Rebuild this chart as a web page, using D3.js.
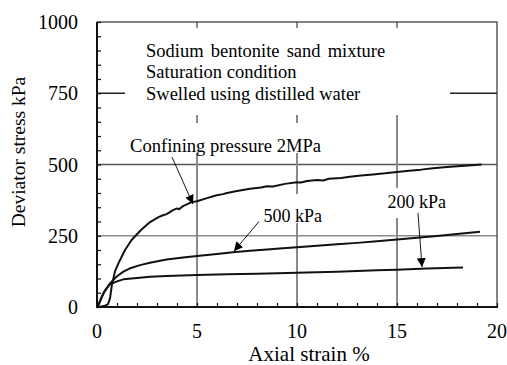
<!DOCTYPE html>
<html><head><meta charset="utf-8">
<script src="https://cdn.jsdelivr.net/npm/d3@7"></script>
</head><body style="margin:0"><svg id="c" width="507" height="365" style="display:block;background:#fff"></svg>
<script>
const xTicks = [0, 5, 10, 15, 20];
const yTicks = [0, 250, 500, 750, 1000];
const xTitle = "Axial strain %";
const yTitle = "Deviator stress kPa";
const boxLines = ["Sodium bentonite sand mixture", "Saturation condition", "Swelled using distilled water"];
const seriesNames = ["Confining pressure 2MPa", "500 kPa", "200 kPa"];
const s2MPa = [[0,0],[0.2,2],[0.4,4],[0.55,10],[0.65,30],[0.75,80],[0.9,125],[1.07,153],[1.4,200],[1.73,235],[2.2,270],[2.65,298],[3.1,316],[3.3,322],[3.48,326],[3.8,340],[4.0,346],[4.1,343],[4.3,354],[4.73,368],[5.0,371],[5.5,382],[5.98,392],[6.3,396],[6.5,400],[7,407],[7.65,415],[8.2,419],[8.5,424],[8.8,423],[9.4,432],[9.98,438],[10.2,437],[10.5,442],[11,446],[11.3,444],[11.6,450],[12.2,453],[12.65,457],[13.2,461],[13.8,465],[14.4,469],[15,474],[15.6,478],[16.2,482],[16.8,487],[17.65,492],[18.4,496],[19.23,500]];
const s500 = [[0,0],[0.15,20],[0.32,48],[0.65,83],[1.0,108],[1.32,124],[1.7,137],[2.15,147],[2.65,155],[3.48,167],[4.2,173],[5,179],[6,186],[6.8,192],[7.65,197],[8.5,202],[9.3,206],[10,210],[11,215],[12,220],[13,225],[14,231],[15,237],[16,243],[17,249],[18,256],[19.15,264]];
const s200 = [[0,0],[0.1,10],[0.2,30],[0.4,58],[0.65,80],[1.0,90],[1.32,97],[2,102],[2.65,106],[3.48,109],[5,112],[6.5,115],[8,117],[10,120],[12,124],[14,129],[15,131],[16.5,135],[18.3,139]];
// annotation anchors in data units: [label x, label baseline y, arrow start x, y, arrow end x, y]
const ann2MPa = [1.65, 545, 3.75, 526, 4.8, 361];
const ann500 = [8.32, 297, 8.1, 300, 6.85, 196];
const ann200 = [14.52, 346, 16.05, 330, 16.25, 140];

const svg = d3.select("#c");
const m = {l:97, r:10, t:22, b:58};
const W = 507, H = 365;
const x = d3.scaleLinear().domain([0,20]).range([m.l, W-m.r]);
const y = d3.scaleLinear().domain([0,1000]).range([H-m.b, m.t]);
const FF = '"Liberation Serif", "Times New Roman", Tinos, serif';
function T(sel){ return sel.style("font-family", FF).attr("font-family", FF).attr("fill","#000"); }

// gridlines
const gcol = {250:"#8a8a8a",500:"#555",750:"#222"};
[250,500,750].forEach(v=>svg.append("line").attr("x1",x(0)).attr("x2",x(20)).attr("y1",y(v)).attr("y2",y(v)).attr("stroke",gcol[v]).attr("stroke-width",1.5));
[5,10,15].forEach(v=>svg.append("line").attr("x1",x(v)).attr("x2",x(v)).attr("y1",y(1000)).attr("y2",y(0)).attr("stroke","#8a8a8a").attr("stroke-width",2));

// white boxes behind text
svg.append("rect").attr("x",125).attr("y",28).attr("width",325).attr("height",87).attr("fill","#fff");
svg.append("rect").attr("x",127).attr("y",123).attr("width",196).attr("height",30).attr("fill","#fff");
svg.append("rect").attr("x",260).attr("y",194).attr("width",66).attr("height",29).attr("fill","#fff");
svg.append("rect").attr("x",384).attr("y",188).attr("width",66).attr("height",30).attr("fill","#fff");

// curves
const line = d3.line().x(d=>x(d[0])).y(d=>y(d[1]));
[s2MPa,s500,s200].forEach(s=>svg.append("path").attr("d",line(s)).attr("fill","none").attr("stroke","#111").attr("stroke-width",2).attr("stroke-linejoin","round"));

// frame
svg.append("rect").attr("x",x(0)).attr("y",y(1000)).attr("width",x(20)-x(0)).attr("height",y(0)-y(1000)).attr("fill","none").attr("stroke","#333").attr("stroke-width",1.2);
svg.append("line").attr("x1",x(0)).attr("x2",x(0)).attr("y1",y(1000)).attr("y2",y(0)+1).attr("stroke","#111").attr("stroke-width",2);
svg.append("line").attr("x1",x(0)-1).attr("x2",x(20)+1).attr("y1",y(0)).attr("y2",y(0)).attr("stroke","#111").attr("stroke-width",2);

// axes (minor inward ticks)
const xAxis = svg.append("g").attr("transform",`translate(0,${y(0)})`).call(d3.axisBottom(x).tickValues(d3.range(0,21,1)).tickSizeInner(-4).tickSizeOuter(0).tickFormat(""));
const yAxis = svg.append("g").attr("transform",`translate(${x(0)},0)`).call(d3.axisLeft(y).tickValues(d3.range(0,1001,50)).tickSizeInner(-4).tickSizeOuter(0).tickFormat(""));
[xAxis,yAxis].forEach(g=>{g.select(".domain").remove();g.selectAll("line").attr("stroke","#111").attr("stroke-width",1.2);});

xTicks.forEach(d=>T(svg.append("text")).attr("x",x(d)).attr("y",y(0)+31).attr("text-anchor","middle").attr("font-size",20).text(d));
yTicks.forEach(d=>T(svg.append("text")).attr("x",x(0)-19).attr("y",y(d)+7).attr("text-anchor","end").attr("font-size",20).text(d));

T(svg.append("text")).attr("x",309).attr("y",361).attr("text-anchor","middle").attr("font-size",21).text(xTitle);
T(svg.append("text")).attr("transform","translate(25,152) rotate(-90)").attr("text-anchor","middle").attr("font-size",19.5).text(yTitle);

// box text
boxLines.forEach((t,i)=>T(svg.append("text")).attr("x",146).attr("y",56.7+i*21.7).attr("font-size",18.5).attr("word-spacing", i===0?2.5:0).text(t));

// annotations
svg.append("defs").append("marker").attr("id","ah").attr("viewBox","0 0 10 10").attr("refX",10).attr("refY",5).attr("markerWidth",9).attr("markerHeight",9).attr("markerUnits","userSpaceOnUse").attr("orient","auto").append("path").attr("d","M0,0L10,5L0,10Z").attr("fill","#000");
[ann2MPa,ann500,ann200].forEach((a,i)=>{
  T(svg.append("text")).attr("x",x(a[0])).attr("y",y(a[1])).attr("font-size",i===0?18.6:18).text(seriesNames[i]);
  svg.append("line").attr("x1",x(a[2])).attr("y1",y(a[3])).attr("x2",x(a[4])).attr("y2",y(a[5])).attr("stroke","#000").attr("stroke-width",0.9).attr("marker-end","url(#ah)");
});
</script></body></html>
